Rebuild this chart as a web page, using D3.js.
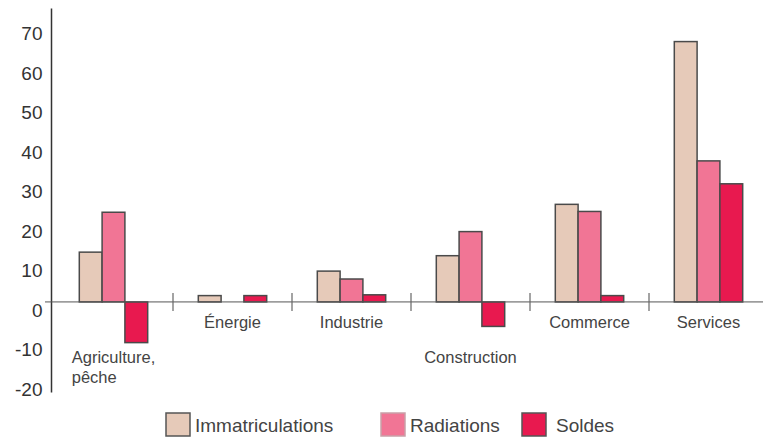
<!DOCTYPE html>
<html>
<head>
<meta charset="utf-8">
<script src="https://cdn.jsdelivr.net/npm/d3@7"></script>
<style>
  body { margin: 0; background: #fff; }
  svg { display: block; font-family: "Liberation Sans", Arial, sans-serif; }
</style>
</head>
<body>
<div id="chart"></div>
<script>
// Données
const categories = ["Agriculture, pêche", "Énergie", "Industrie", "Construction", "Commerce", "Services"];
const series = ["Immatriculations", "Radiations", "Soldes"];
const immatriculations = [12.6, 1.6, 7.8, 11.7, 24.7, 65.9];
const radiations = [22.7, 0, 5.8, 17.8, 22.9, 35.7];
const soldes = [-10.3, 1.6, 1.8, -6.2, 1.6, 29.9];
const yTicks = [-20, -10, 0, 10, 20, 30, 40, 50, 60, 70];
const colors = ["#e6cab9", "#f17595", "#e8194f"];

const W = 763, H = 439;
const svg = d3.select("#chart").append("svg")
    .attr("width", W)
    .attr("height", H);

const values = [immatriculations, radiations, soldes];
const data = categories.map((c, i) => ({
    cat: c,
    vals: series.map((s, j) => ({ key: s, value: values[j][i], color: colors[j] }))
}));

// Échelles
const y = d3.scaleLinear().domain([-22.8, 74.4]).range([392, 8]);
const x = d3.scaleBand().domain(categories).range([54, 768]).padding(0);
const xs = d3.scaleBand().domain(series).range([0, x.bandwidth()]).paddingInner(0).paddingOuter(1.11);

// Axe vertical
const yAxis = svg.append("g")
    .attr("transform", "translate(51,0)")
    .call(d3.axisLeft(y).tickValues(yTicks).tickFormat(d => String(d)).tickSize(0).tickPadding(8.5));
yAxis.select(".domain").attr("stroke", "#333").attr("stroke-width", 1.5);
yAxis.selectAll("text")
    .attr("dy", "8")
    .attr("dominant-baseline", "central")
    .style("font-size", "19px")
    .style("font-family", "'Liberation Sans', Arial, sans-serif")
    .attr("fill", "#333");

// Barres
const groups = svg.selectAll(".grp")
    .data(data)
    .enter()
    .append("g")
    .attr("class", "grp")
    .attr("transform", d => `translate(${x(d.cat)},0)`);

groups.selectAll("rect")
    .data(d => d.vals.filter(v => v.value !== 0))
    .enter()
    .append("rect")
    .attr("x", d => xs(d.key))
    .attr("y", d => y(Math.max(0, d.value)))
    .attr("width", xs.bandwidth())
    .attr("height", d => Math.abs(y(d.value) - y(0)))
    .attr("fill", d => d.color)
    .attr("stroke", "#4a4a4a")
    .attr("stroke-width", 1.5);

// Ligne du zéro
svg.append("line")
    .attr("x1", 45).attr("x2", W)
    .attr("y1", y(0)).attr("y2", y(0))
    .attr("stroke", "#555")
    .attr("stroke-width", 1);

// Séparateurs entre catégories
svg.selectAll(".sep")
    .data(categories.slice(1))
    .enter()
    .append("line")
    .attr("class", "sep")
    .attr("x1", d => x(d)).attr("x2", d => x(d))
    .attr("y1", y(0) - 9).attr("y2", y(0) + 9)
    .attr("stroke", "#666")
    .attr("stroke-width", 1.2);

// Libellés des catégories
data.forEach(d => {
    const cx = x(d.cat) + x.bandwidth() / 2;
    const neg = d3.min(d.vals, v => v.value) < 0;
    const ty = neg ? y(0) + 55 : y(0) + 20;
    const lines = d.cat.includes(",") ? [d.cat.split(",")[0] + ",", d.cat.split(",")[1].trim()] : [d.cat];
    const t = svg.append("text")
        .attr("fill", "#444")
        .style("font-size", "16.5px");
    if (lines.length === 1) {
        t.attr("x", cx).attr("y", ty).attr("text-anchor", "middle")
            .attr("dominant-baseline", "central").text(lines[0]);
    } else {
        const first = t.append("tspan").attr("y", ty).attr("dominant-baseline", "central").text(lines[0]);
        const w = first.node().getComputedTextLength();
        first.attr("x", cx - w / 2);
        t.append("tspan").attr("x", cx - w / 2).attr("y", ty + 20)
            .attr("dominant-baseline", "central").text(lines[1]);
    }
});

// Légende
const legendX = [166, 381, 522];
const legend = svg.append("g");
series.forEach((s, i) => {
    legend.append("rect")
        .attr("x", legendX[i]).attr("y", 413)
        .attr("width", 24).attr("height", 23)
        .attr("fill", colors[i])
        .attr("stroke", i === 1 ? "#c9a0a8" : "#555")
        .attr("stroke-width", 1.5);
    legend.append("text")
        .attr("x", legendX[i] + 29 + (i === 2 ? 5 : 0))
        .attr("y", 425.5)
        .attr("dominant-baseline", "central")
        .attr("fill", "#444")
        .style("font-size", "19px")
        .text(s);
});
</script>
</body>
</html>
